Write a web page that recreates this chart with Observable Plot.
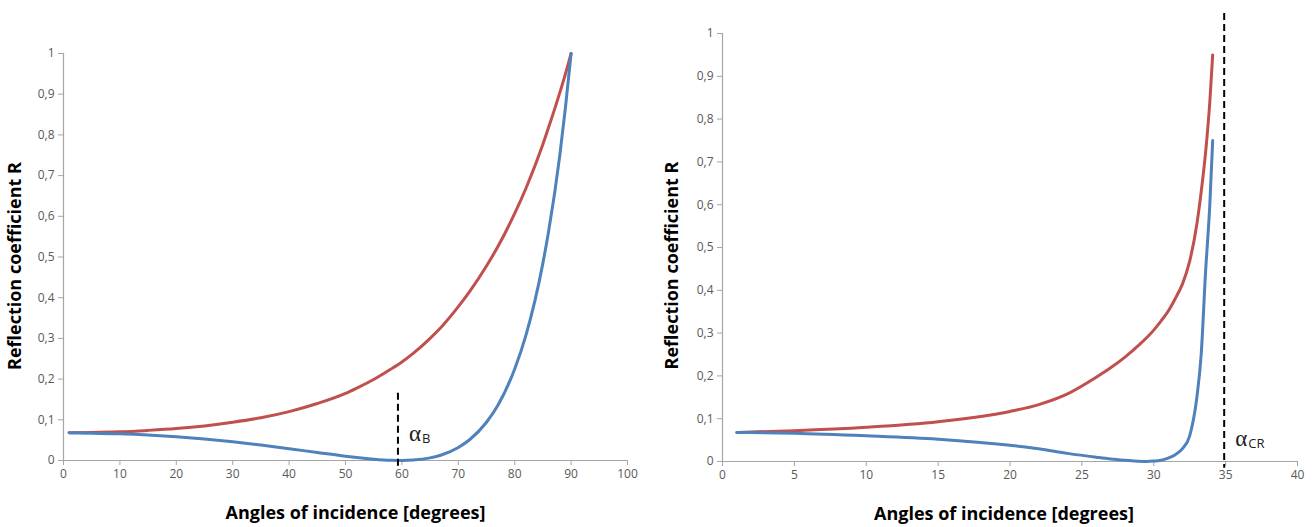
<!DOCTYPE html>
<html>
<head>
<meta charset="utf-8">
<script src="https://cdn.jsdelivr.net/npm/d3@7"></script>
<script src="https://cdn.jsdelivr.net/npm/@observablehq/plot@0.6"></script>
<style>
  html, body { margin: 0; padding: 0; background: #fff; }
  #wrap { position: relative; width: 1312px; height: 527px; overflow: hidden; background: #fff; }
  #wrap > div { position: absolute; top: 0; }
  #left { left: 0px; }
  #right { left: 655px; }
</style>
</head>
<body>
<div id="wrap"><div id="left"></div><div id="right"></div></div>
<script>
// ---------- Data: left chart (external reflection) ----------
const leftAngles = [1, 5, 10, 15, 20, 25, 30, 35, 40, 45, 50, 52, 55, 58, 60, 62, 65, 67, 70, 72, 75, 77, 80, 82, 85, 86, 88, 89, 90];
const leftRs = [0.068, 0.069, 0.0705, 0.074, 0.0785, 0.085, 0.094, 0.105, 0.120, 0.140, 0.165, 0.178, 0.199, 0.224, 0.242, 0.263, 0.300, 0.328, 0.378, 0.415, 0.478, 0.525, 0.607, 0.669, 0.777, 0.818, 0.904, 0.950, 1.0];
const leftRp = [0.068, 0.0672, 0.0656, 0.0626, 0.0583, 0.0527, 0.0459, 0.0379, 0.0290, 0.0196, 0.0104, 0.0071, 0.0030, 0.0004, 0.0, 0.0011, 0.0065, 0.0135, 0.0320, 0.0510, 0.0940, 0.1350, 0.2250, 0.3080, 0.4850, 0.5620, 0.750, 0.868, 1.0];

// ---------- Data: right chart (internal reflection) ----------
const rightAngles = [1, 5, 10, 15, 20, 22, 24, 26, 27, 28, 29, 29.5, 30, 30.5, 31, 31.5, 32, 32.5, 33, 33.3, 33.6, 33.9, 34.1];
const rightRs = [0.068, 0.072, 0.080, 0.093, 0.117, 0.133, 0.158, 0.197, 0.219, 0.244, 0.273, 0.289, 0.307, 0.328, 0.351, 0.381, 0.415, 0.468, 0.555, 0.630, 0.720, 0.840, 0.950];
const rightRp = [0.068, 0.066, 0.060, 0.052, 0.038, 0.030, 0.019, 0.010, 0.006, 0.003, 0.0005, 0.0, 0.001, 0.003, 0.008, 0.016, 0.030, 0.060, 0.150, 0.250, 0.440, 0.600, 0.750];

// ---------- Axes / annotations ----------
const yTicks = [0, 0.1, 0.2, 0.3, 0.4, 0.5, 0.6, 0.7, 0.8, 0.9, 1];
const yTickLabels = ["0", "0,1", "0,2", "0,3", "0,4", "0,5", "0,6", "0,7", "0,8", "0,9", "1"];
const leftXTicks = [0, 10, 20, 30, 40, 50, 60, 70, 80, 90, 100];
const rightXTicks = [0, 5, 10, 15, 20, 25, 30, 35, 40];
const xTitle = "Angles of incidence [degrees]";
const yTitle = "Reflection coefficient R";
const brewster = [{x: 59.3, y1: 0.165, y2: -0.02, label: "α", sub: "B", labelY: 0.066}];
const critical = [{x: 34.9, y1: 1.047, y2: -0.016, label: "α", sub: "CR", labelY: 0.054}];

const RED = "#c0504d", BLUE = "#4f81bd";
const AXIS = "#a6a6a6", TICKTEXT = "#595959";

function series(xs, ys, name) { return xs.map((x, i) => ({x, y: ys[i], s: name})); }

function chart({xs, rs, rp, xTicks, xDomain, width, height, margins, ann, xTitleDx, yTitleDx, yTitleDy}) {
  const data = [...series(xs, rs, "Rs"), ...series(xs, rp, "Rp")];
  return Plot.plot({
    width, height,
    marginLeft: margins[0], marginRight: margins[1], marginTop: margins[2], marginBottom: margins[3],
    style: {fontFamily: "'Open Sans', sans-serif", fontSize: "12px", background: "#fff", overflow: "visible"},
    x: {domain: xDomain},
    y: {domain: [0, 1]},
    marks: [
      Plot.ruleY([0], {stroke: AXIS, strokeWidth: 1.2}),
      Plot.ruleX([0], {stroke: AXIS, strokeWidth: 1.2}),
      Plot.axisX({ticks: xTicks, tickSize: 5, tickPadding: 4, stroke: AXIS, fill: TICKTEXT, label: null, fontSize: 12}),
      Plot.axisY({ticks: yTicks, tickSize: 5, tickPadding: 4, stroke: AXIS, fill: TICKTEXT, label: null, fontSize: 12,
        tickFormat: d => yTickLabels[yTicks.findIndex(t => Math.abs(t - d) < 1e-9)]}),
      Plot.line(data.filter(d => d.s === "Rs"), {x: "x", y: "y", stroke: RED, strokeWidth: 3, curve: "monotone-x"}),
      Plot.line(data.filter(d => d.s === "Rp"), {x: "x", y: "y", stroke: BLUE, strokeWidth: 3, curve: "monotone-x"}),
      Plot.ruleX(ann, {x: "x", y1: "y1", y2: "y2", stroke: "#000", strokeWidth: 2, strokeDasharray: "7,4"}),
      Plot.text(ann, {x: "x", y: "labelY", text: "label", dx: 17, fontFamily: "'Liberation Serif', serif", fontSize: 23, fill: "#222"}),
      Plot.text(ann, {x: "x", y: "labelY", text: "sub", dx: 24, dy: 5, textAnchor: "start", fontFamily: "'Open Sans', sans-serif", fontSize: 13, fill: "#222"}),
      Plot.text([xTitle], {frameAnchor: "bottom", lineAnchor: "middle", textAnchor: "middle", dy: 53, dx: xTitleDx, fontSize: 18, fontWeight: "bold", fill: "#000"}),
      Plot.text([yTitle], {frameAnchor: "left", lineAnchor: "middle", textAnchor: "middle", rotate: -90, dx: yTitleDx, dy: yTitleDy, fontSize: 18, fontWeight: "bold", fill: "#000"})
    ]
  });
}

document.getElementById("left").appendChild(chart({
  xs: leftAngles, rs: leftRs, rp: leftRp, xTicks: leftXTicks, xDomain: [0, 100],
  width: 650, height: 527, margins: [63, 23, 53, 67], ann: brewster,
  xTitleDx: 10, yTitleDx: -48, yTitleDy: 9
}));
document.getElementById("right").appendChild(chart({
  xs: rightAngles, rs: rightRs, rp: rightRp, xTicks: rightXTicks, xDomain: [0, 40],
  width: 657, height: 527, margins: [67, 15, 33, 66], ann: critical,
  xTitleDx: -6, yTitleDx: -50, yTitleDy: 18
}));
</script>
</body>
</html>
